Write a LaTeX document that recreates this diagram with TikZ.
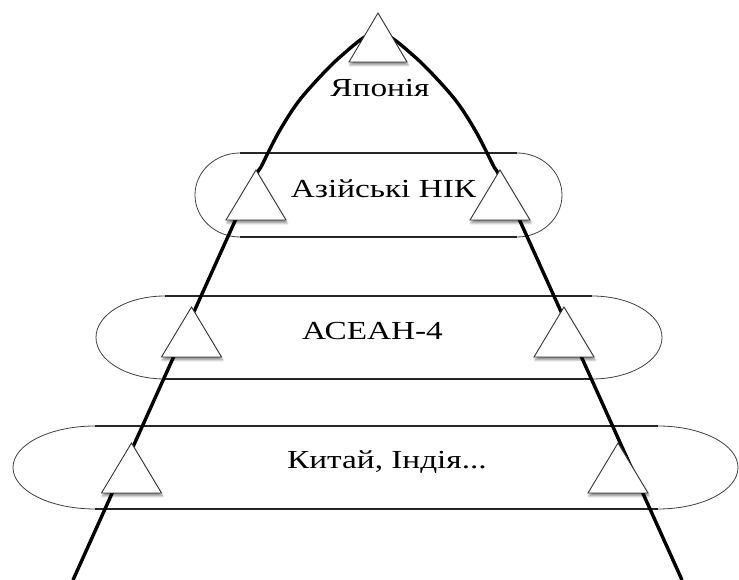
\documentclass[tikz,border=0pt]{standalone}
\usepackage{fontspec}
\setmainfont{Liberation Serif}
\usetikzlibrary{shadows.blur}
\begin{document}
\begin{tikzpicture}[x=1pt,y=1pt,
  pyr/.style={line width=3.4pt,black},
  bandline/.style={line width=1.3pt,black!85},
  capline/.style={line width=0.8pt,black!75},
  triline/.style={draw=black!80,line width=0.9pt,fill=white,
    blur shadow={shadow xshift=1pt,shadow yshift=-3pt,shadow opacity=45,shadow blur steps=6,shadow blur radius=2pt}},
  lbl/.style={font=\fontsize{26}{30}\selectfont,inner sep=0pt,anchor=base},
  tri/.pic={\path[triline] (-30,0) -- (0,50) -- (30,0) -- cycle;},
  toptri/.pic={\path[triline] (-29,0) -- (0,49) -- (29,0) -- cycle;}
]
\useasboundingbox (0,0) rectangle (739,580);
% bands: straight lines
\draw[bandline] (240,427) -- (517,427);
\draw[bandline] (240,343) -- (517,343);
\draw[bandline] (165,284) -- (592,284);
\draw[bandline] (165,201) -- (592,201);
\draw[bandline] (95,154) -- (658,154);
\draw[bandline] (95,71) -- (658,71);
% bands: elliptical caps
\draw[capline] (240,427) arc[start angle=90,end angle=270,x radius=45,y radius=42];
\draw[capline] (517,427) arc[start angle=90,end angle=-90,x radius=45,y radius=42];
\draw[capline] (165,284) arc[start angle=90,end angle=270,x radius=69,y radius=41.5];
\draw[capline] (592,284) arc[start angle=90,end angle=-90,x radius=70,y radius=41.5];
\draw[capline] (95,154) arc[start angle=90,end angle=270,x radius=82,y radius=41.5];
\draw[capline] (658,154) arc[start angle=90,end angle=-90,x radius=80,y radius=41.5];
% pyramid curve
\draw[pyr] plot[smooth,tension=0.5] coordinates {(73,0) (240,370) (262,415) (280,450) (302,483) (340,523) (377.5,548) (415,523) (453,483) (475,450) (493,415) (515,370) (682,0)};
% triangles
\pic at (378,518) {toptri};
\pic at (256,360) {tri};
\pic at (500,360) {tri};
\pic at (191.5,223) {tri};
\pic at (564,223) {tri};
\pic at (131.5,87) {tri};
\pic at (618,87) {tri};
% labels
\node[lbl] (japan) at (380,483) {\scalebox{1.28}[1]{Японія}};
\node[lbl] (nic) at (383.5,382) {\scalebox{1.28}[1]{Азійські НІК}};
\node[lbl] (asean) at (372.5,240) {\scalebox{1.28}[1]{АСЕАН-4}};
\node[lbl] (china) at (387,111) {\scalebox{1.28}[1]{Китай, Індія...}};
\end{tikzpicture}
\end{document}
